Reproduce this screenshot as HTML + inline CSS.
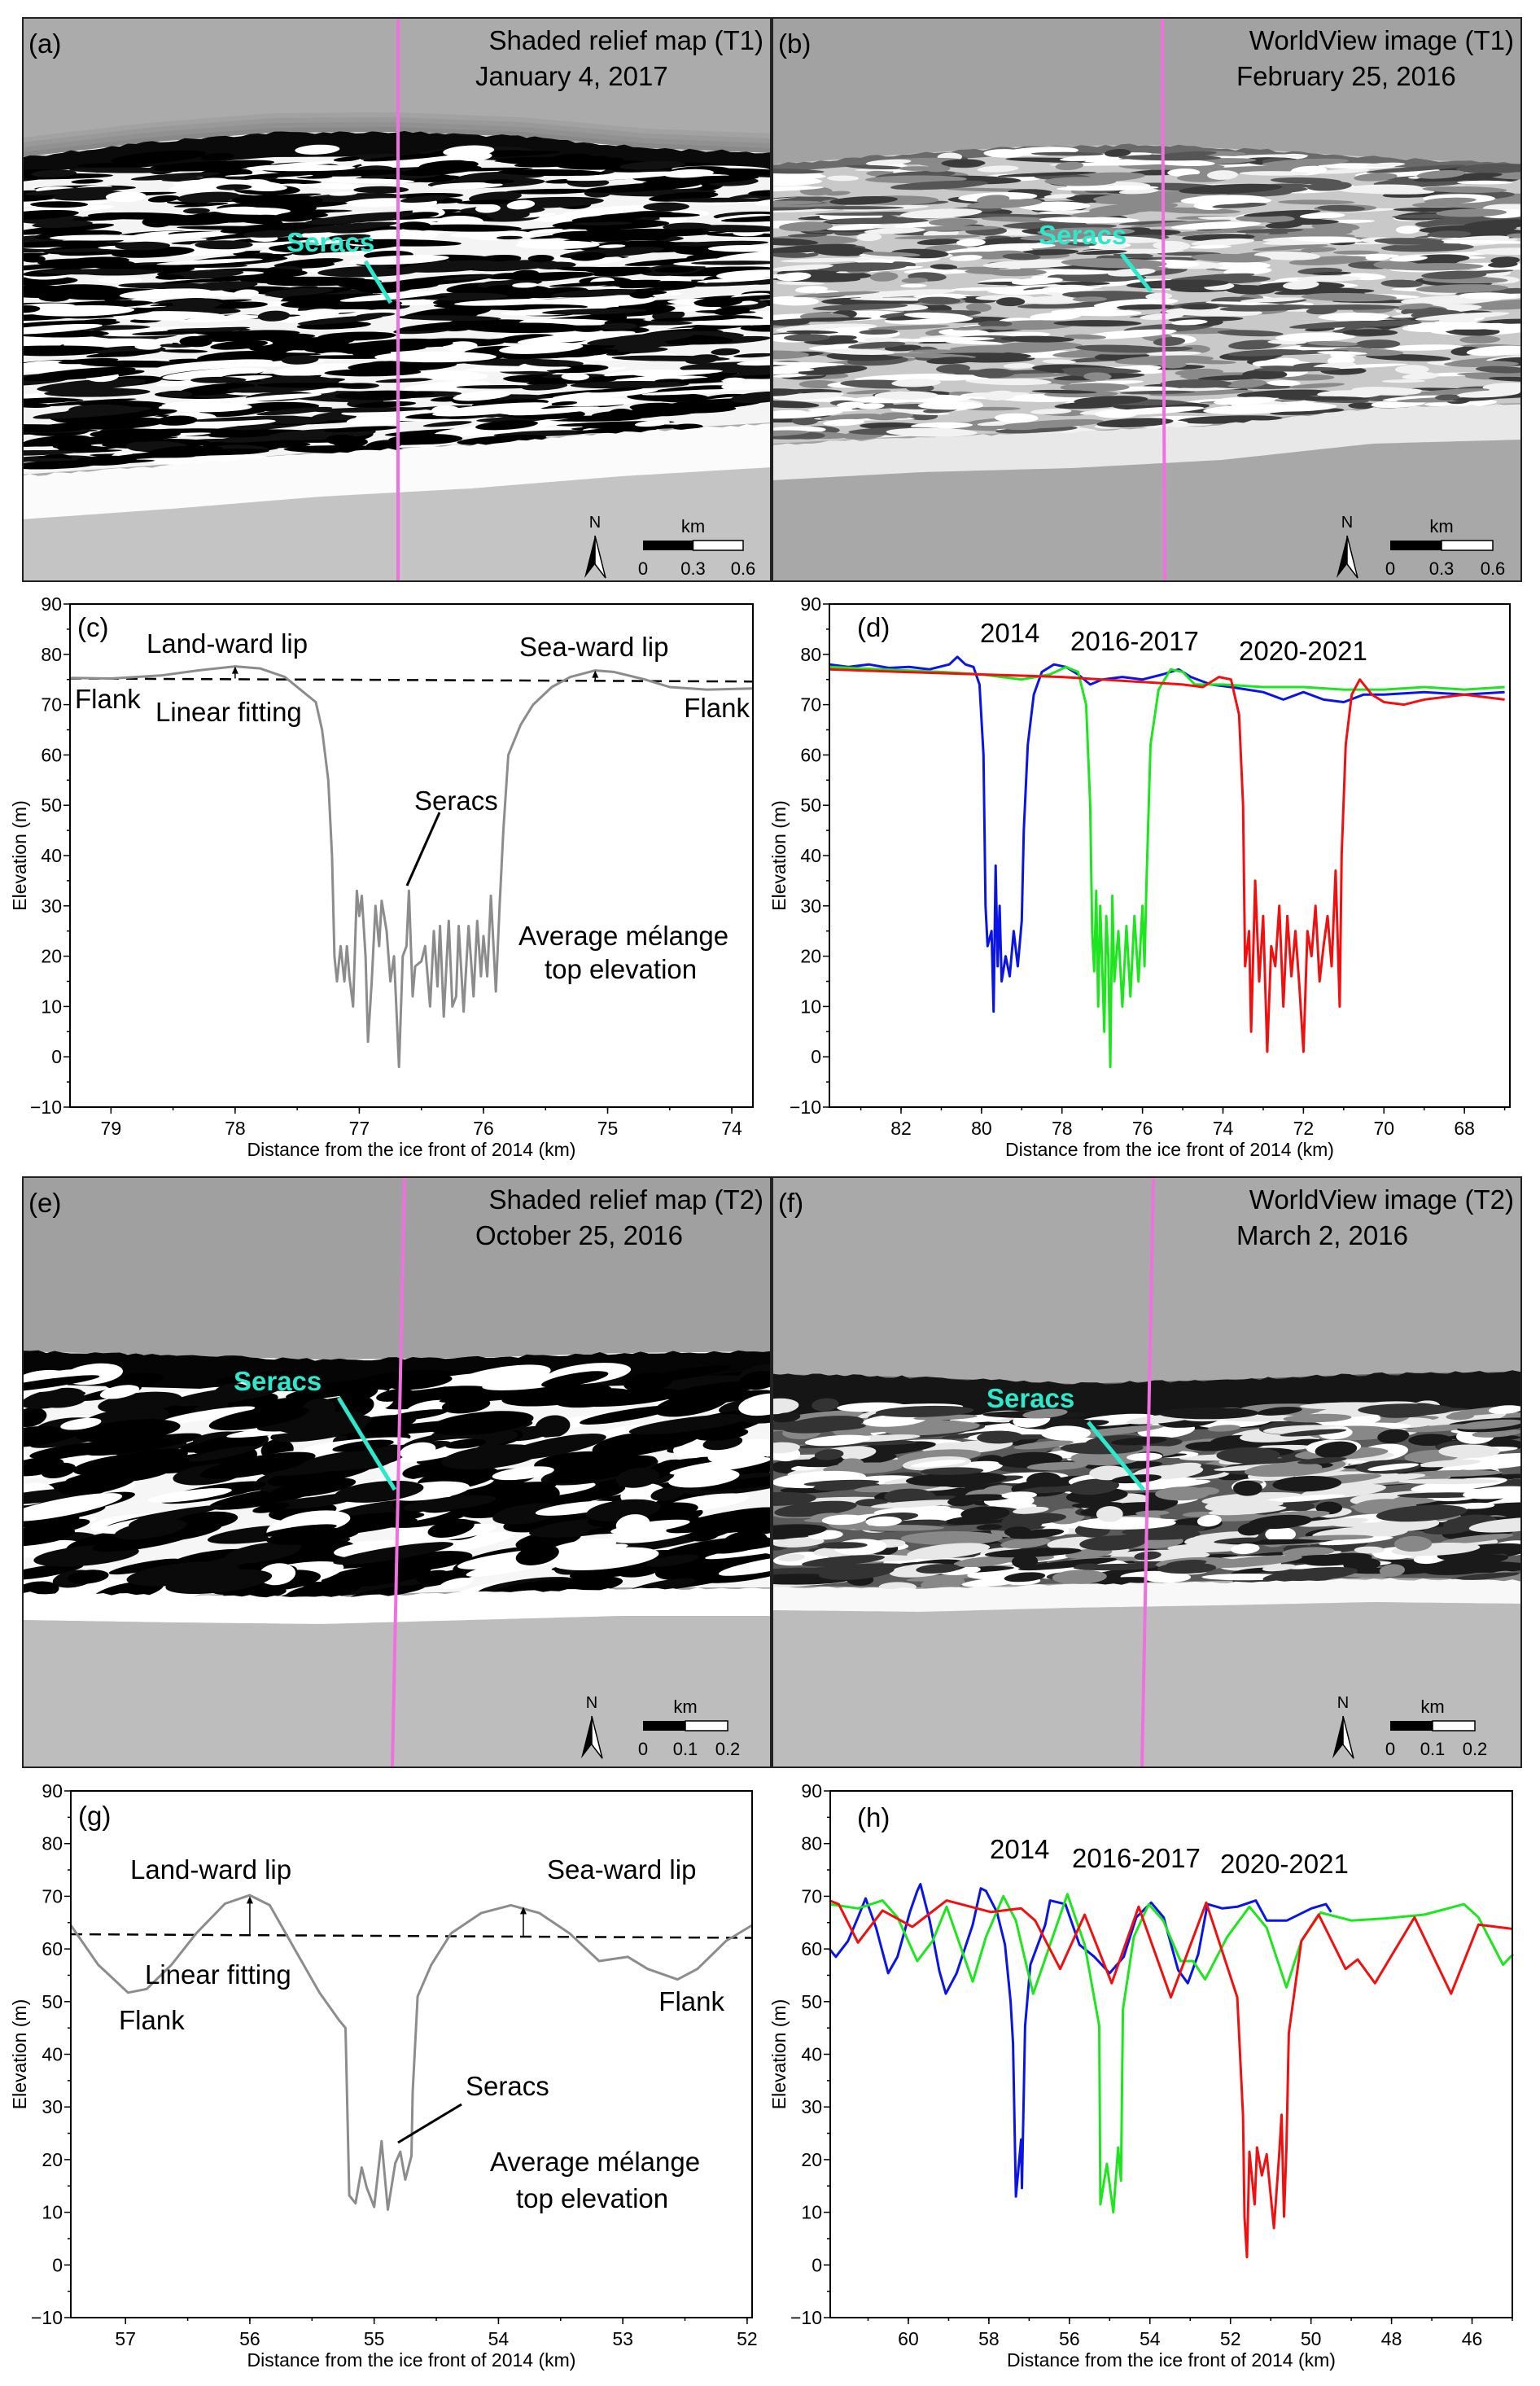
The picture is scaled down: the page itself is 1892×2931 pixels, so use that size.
<!DOCTYPE html>
<html><head><meta charset="utf-8"><style>
html,body{margin:0;padding:0;background:#fff}
svg{display:block;font-family:"Liberation Sans",Arial,sans-serif}
</style></head><body>
<svg id="fig" xmlns="http://www.w3.org/2000/svg" width="1892" height="2931" viewBox="0 0 1892 2931">
<defs>
<clipPath id="clipA"><rect x="27" y="21" width="921" height="694"/></clipPath>
<clipPath id="clipB"><rect x="948" y="21" width="922" height="694"/></clipPath>
<clipPath id="clipE"><rect x="27" y="1445" width="921" height="727"/></clipPath>
<clipPath id="clipF"><rect x="948" y="1445" width="922" height="727"/></clipPath>
</defs>
<g id="maps"></g>
<g id="charts"></g>
</svg>
<script>
// ---------- chart data ----------
const cX=[79.33,79.0,78.6,78.3,78.0,77.8,77.6,77.45,77.35,77.3,77.25,77.22,77.2,77.18,77.15,77.12,77.1,77.08,77.05,77.02,77.0,76.98,76.95,76.93,76.9,76.87,76.84,76.82,76.78,76.75,76.72,76.68,76.65,76.62,76.6,76.57,76.55,76.5,76.47,76.43,76.4,76.37,76.35,76.32,76.28,76.25,76.22,76.2,76.16,76.12,76.08,76.05,76.02,76.0,75.97,75.94,75.9,75.87,75.84,75.8,75.7,75.6,75.45,75.3,75.1,74.95,74.7,74.5,74.2,73.83];
const cY=[75.3,75.2,75.8,76.8,77.6,77.2,75.5,72.5,70.5,65,55,40,20,15,22,15,22,16,10,33,28,32,20,3,15,30,22,31,25,15,20,-2,20,22,33,12,18,19,22,10,25,14,26,8,27,10,12,26,9,26,12,27,16,24,16,32,13,30,45,60,66,70,73.5,75.5,76.8,76.5,75,73.5,73,73.2];
const cFitX=[79.33,73.83];
const cFitY=[75.2,74.6];

const dBlueX=[83.78,83.3,82.8,82.3,81.8,81.3,80.8,80.6,80.4,80.2,80.05,79.95,79.9,79.85,79.75,79.7,79.65,79.6,79.55,79.5,79.4,79.3,79.2,79.1,79.0,78.95,78.85,78.7,78.5,78.2,77.9,77.6,77.3,77.0,76.5,76.0,75.5,75.1,74.8,74.3,73.8,73.0,72.5,72.0,71.5,71.0,70.5,70.0,69.0,68.0,67.0];
const dBlueY=[78,77.5,78,77.3,77.5,77,78,79.5,78,77.5,74,60,30,22,25,9,38,18,30,15,20,16,25,18,27,45,62,72,76.5,78,77.5,76,74,75,75.5,75,76,77,75.5,74,73.5,72.5,71,72.5,71,70.5,72,72,72.5,72,72.5];
const dGreenX=[83.78,82.5,81,80,79,78.3,77.9,77.6,77.4,77.3,77.25,77.2,77.15,77.1,77.05,77.0,76.95,76.9,76.85,76.8,76.75,76.7,76.6,76.5,76.4,76.3,76.2,76.1,76.0,75.95,75.9,75.8,75.6,75.3,75.0,74.7,74.0,73.0,72.0,71.0,70.0,69.0,68.0,67.0];
const dGreenY=[77.5,77,76.5,76,75,76,77.5,76.5,70,50,25,17,33,10,30,18,5,28,20,-2,32,15,25,10,26,12,28,15,30,18,35,62,73,77,76.5,74,74,73.5,73.5,73,73,73.5,73,73.5];
const dRedX=[83.78,82,80,78,77,76,75,74.5,74.1,73.8,73.6,73.5,73.45,73.35,73.3,73.2,73.1,73.0,72.9,72.8,72.7,72.6,72.5,72.4,72.3,72.2,72.1,72.0,71.9,71.8,71.7,71.6,71.5,71.4,71.3,71.2,71.1,71.05,70.95,70.8,70.6,70.3,70.0,69.5,69.0,68.0,67.0];
const dRedY=[77,76.5,76,75.5,75,74.5,74,73.5,75.5,75,68,50,18,25,5,35,15,28,1,22,18,30,10,28,16,25,14,1,25,20,30,15,22,28,18,37,10,40,62,72,75,72,70.5,70,71,72,71];

const gX=[57.44,57.22,56.98,56.83,56.63,56.43,56.2,56.0,55.84,55.64,55.44,55.28,55.23,55.2,55.15,55.1,55.06,55.0,54.94,54.89,54.83,54.79,54.75,54.7,54.69,54.65,54.54,54.38,54.14,53.9,53.67,53.43,53.19,52.96,52.8,52.56,52.4,52.17,51.96];
const gY=[64.5,57,51.7,52.4,57,63,68.6,70.2,68.3,60,51.7,46.4,45,13.2,11.7,18.5,14.7,11,23.5,10.5,19.3,21.5,16.2,20.7,32.8,51,57,63,66.8,68.3,66.8,63,57.7,58.5,56.2,54.2,56.2,61.5,64.5];
const gFitX=[57.44,51.96];
const gFitY=[62.8,62.1];

const hBlueX=[61.96,61.8,61.5,61.25,61.06,60.8,60.5,60.27,59.96,59.78,59.7,59.47,59.23,59.07,58.8,58.4,58.2,58.07,57.8,57.6,57.46,57.4,57.33,57.2,57.18,57.1,56.97,56.6,56.48,56.1,55.75,55.38,55.0,54.65,54.34,53.97,53.66,53.3,53.06,52.8,52.57,52.2,51.83,51.37,51.1,50.6,49.99,49.63,49.5];
const hBlueY=[60,58.5,61.5,66,69.6,64,55.4,58.5,67,71,72.3,65.4,55.8,51.5,55.4,64.6,71.5,71,67,60.8,50,42,13,23.8,14.6,45.4,57,64.6,69.2,68.5,60.8,58.5,55.4,58.5,66,68.8,66,56,53.5,59,68.5,67.7,68,69.2,65.4,65.4,67.7,68.5,67];
const hGreenX=[61.96,61.25,60.64,60.27,59.78,59.4,59.05,58.4,58.07,57.64,57.33,56.9,56.48,56.05,55.62,55.26,55.23,55.07,54.91,54.79,54.72,54.67,54.4,54.03,53.67,53.24,52.93,52.63,52.08,51.53,51.1,50.61,50.24,49.76,49.0,48.16,47.19,46.2,45.84,45.23,44.98];
const hGreenY=[68.5,67.7,69.2,66,57.7,61.5,68,53.8,62.3,70,65.4,51.5,60.8,70.4,60.8,45.4,11.5,19.2,10,22.3,16,48.5,62.3,68.5,65.4,57.7,57.7,54.2,62.3,68,64,52.7,61.5,66.9,65.4,65.8,66.5,68.5,66,57,59];
const hRedX=[61.96,61.73,61.25,60.64,59.9,59.05,57.95,57.2,56.85,56.23,55.62,54.95,54.28,53.48,52.6,51.83,51.69,51.65,51.59,51.53,51.4,51.34,51.22,51.1,50.92,50.79,50.73,50.67,50.61,50.55,50.24,49.81,49.14,48.84,48.41,47.43,46.52,45.84,44.99];
const hRedY=[69.2,68.5,61.2,67.3,64.2,69.2,67,67.7,65.4,56.2,66.5,53.5,68,50.8,68.8,50.8,28.5,9,1.5,21.5,11.5,22.3,17,21,7,21,28.5,9.2,22.3,44,61.5,66.5,56.2,58,53.5,66,51.5,64.6,63.8];

const yTicks=[-10,0,10,20,30,40,50,60,70,80,90];
const cTicks=[79,78,77,76,75,74];
const dTicks=[82,80,78,76,74,72,70,68];
const gTicks=[57,56,55,54,53,52];
const hTicks=[60,58,56,54,52,50,48,46];

// ---------- helpers ----------
const NS='http://www.w3.org/2000/svg';
function mk(tag,attrs,parent){const e=document.createElementNS(NS,tag);for(const k in attrs)e.setAttribute(k,attrs[k]);parent.appendChild(e);return e;}
function txt(parent,x,y,s,size,anchor,fill,name,extra){const t=mk('text',{x:x,y:y,'font-size':size,'text-anchor':anchor||'start',fill:fill||'#000'},parent);t.textContent=s;


if(extra)for(const k in extra)t.setAttribute(k,extra[k]);return t;}

// seeded PRNG for decorative map textures (not chart data)
let seed=12345;function rnd(){seed=(seed*1103515245+12345)%2147483648;return seed/2147483648;}

const maps=document.getElementById('maps');
function edge(x0,w,ys){ // piecewise linear edge through ys evenly spaced
  return function(x){const t=(x-x0)/w*(ys.length-1);const i=Math.max(0,Math.min(ys.length-2,Math.floor(t)));const f=t-i;return ys[i]*(1-f)+ys[i+1]*f;};}
function mapPanel(o){
  const g=mk('g',{'clip-path':'url(#'+o.clip+')'},maps);
  
  
  const {x,y,w,h}=o;
  mk('rect',{x:x,y:y,width:w,height:h,fill:o.topCol},g);
  const top=edge(x,w,o.topEdge), bot=edge(x,w,o.botEdge);
  // bottom area
  let pb='M'+x+','+(y+h);for(let xx=x;xx<=x+w;xx+=10)pb+=' L'+xx+','+(bot(xx)+o.whiteW);pb+=' L'+(x+w)+','+(y+h)+'Z';
  mk('path',{d:pb,fill:o.botCol},g);
  // gradient shading near top band
  for(let i=0;i<o.fadeN;i++){let p='M'+x+','+(top(x)-i*6);for(let xx=x;xx<=x+w;xx+=10)p+=' L'+xx+','+(top(xx)-i*6);
    mk('path',{d:p+' L'+(x+w)+','+(top(x+w))+' L'+x+','+top(x)+'Z',fill:'#000',opacity:0.05},g);}
  // melange body
  let pm='M'+x+','+top(x);for(let xx=x;xx<=x+w;xx+=10)pm+=' L'+xx+','+top(xx);
  for(let xx=x+w;xx>=x;xx-=10)pm+=' L'+xx+','+bot(xx);pm+='Z';
  mk('path',{d:pm,fill:o.bodyCol},g);
  // dark band at top edge
  let pd='M'+x+','+top(x);for(let xx=x;xx<=x+w;xx+=10)pd+=' L'+xx+','+(top(xx)+(rnd()*4-2));
  for(let xx=x+w;xx>=x;xx-=10)pd+=' L'+xx+','+(top(xx)+o.darkW);pd+='Z';
  mk('path',{d:pd,fill:o.darkCol},g);
  // streaks
  for(let i=0;i<o.n;i++){const sx=x+rnd()*w;const t0=top(sx)+o.darkW*0.6,b0=bot(sx);const sy=t0+rnd()*(b0-t0);
    const col=o.cols[Math.floor(rnd()*o.cols.length)];
    mk('ellipse',{cx:sx,cy:sy,rx:o.rx[0]+rnd()*o.rx[1],ry:o.ry[0]+rnd()*o.ry[1],fill:col,transform:'rotate('+(o.rot+rnd()*6-3)+' '+sx+' '+sy+')'},g);}
  // white band along bottom
  let pw='M'+x+','+bot(x);for(let xx=x;xx<=x+w;xx+=10)pw+=' L'+xx+','+(bot(xx)+rnd()*3);
  for(let xx=x+w;xx>=x;xx-=10)pw+=' L'+xx+','+(bot(xx)+o.whiteW);pw+='Z';
  mk('path',{d:pw,fill:o.whiteCol},g);
  // pink profile line
  const pl=mk('line',{x1:o.px1,y1:y,x2:o.px2,y2:y+h,stroke:'#f070e0','stroke-width':4},g);
  
  
  // frame
  const fr=mk('rect',{x:x+1,y:y+1,width:w-2,height:h-2,fill:'none',stroke:'#222','stroke-width':2},maps);
  
  
  // labels
  txt(maps,x+8,y+44,o.letter,33,'start','#000','panel-letter');
  txt(maps,x+w-10,y+40,o.t1,33,'end','#000','map-title');
  const t2=txt(maps,o.t2x,y+84,o.t2,33,'start','#000','map-date');
  // seracs label
  txt(maps,o.sx,o.sy,'Seracs',33,'start','#2ee8cc','seracs-label',{'font-weight':'bold'});
  const sl=mk('line',{x1:o.sl[0],y1:o.sl[1],x2:o.sl[2],y2:o.sl[3],stroke:'#2ee8cc','stroke-width':5},maps);
  
  
  // north arrow + scale bar
  const nx=o.nx, ny=o.ny;
  txt(maps,nx,ny,'N',20,'middle','#000','north-label');
  const na=mk('path',{d:`M${nx},${ny+10} L${nx-13},${ny+62} L${nx},${ny+45} Z`,fill:'#000'},maps);
  
  
  mk('path',{d:`M${nx},${ny+10} L${nx+13},${ny+62} L${nx},${ny+45} Z`,fill:'#fff',stroke:'#000','stroke-width':1.5},maps);
  const bx=o.bx,bw=o.bw;
  mk('rect',{x:bx,y:ny+16,width:bw/2,height:12,fill:'#000'},maps);
  const sb=mk('rect',{x:bx+bw/2,y:ny+16,width:bw/2,height:12,fill:'#fff',stroke:'#000','stroke-width':1.5},maps);
  
  
  txt(maps,bx+bw/2,ny+6,'km',22,'middle','#000','scale-unit');
  o.sLabels.forEach((s,i)=>txt(maps,bx+i*bw/2,ny+58,s,22,'middle','#000','scale-tick'));
}
mapPanel({name:'map-a',clip:'clipA',x:27,y:21,w:921,h:694,topCol:'#ababab',botCol:'#c4c4c4',bodyCol:'#f4f4f4',darkCol:'#0a0a0a',whiteCol:'#fbfbfb',
 topEdge:[193,175,163,162,168,182,188],botEdge:[583,570,555,545,530,519],darkW:30,whiteW:55,fadeN:5,n:900,cols:['#000','#000','#111','#fff'],rx:[15,60],ry:[2,5],rot:-2,
 px1:489,px2:489,letter:'(a)',t1:'Shaded relief map (T1)',t2:'January 4, 2017',t2x:584,sx:352,sy:309,sl:[449,321,480,372],nx:731,ny:648,bx:790,bw:123,sLabels:['0','0.3','0.6']});
mapPanel({name:'map-b',clip:'clipB',x:948,y:21,w:922,h:694,topCol:'#a2a2a2',botCol:'#a8a8a8',bodyCol:'#c9c9c9',darkCol:'#6a6a6a',whiteCol:'#e8e8e8',
 topEdge:[202,190,180,178,185,195,202],botEdge:[545,535,530,520,500,495],darkW:10,whiteW:45,fadeN:0,n:900,cols:['#3a3a3a','#555','#f2f2f2','#ffffff','#8a8a8a'],rx:[15,50],ry:[2,4],rot:-1,
 px1:1428,px2:1431,letter:'(b)',t1:'WorldView image (T1)',t2:'February 25, 2016',t2x:1519,sx:1276,sy:300,sl:[1378,312,1414,358],nx:1655,ny:648,bx:1708,bw:126,sLabels:['0','0.3','0.6']});
mapPanel({name:'map-e',clip:'clipE',x:27,y:1445,w:921,h:727,topCol:'#a0a0a0',botCol:'#bdbdbd',bodyCol:'#f6f6f6',darkCol:'#050505',whiteCol:'#ffffff',
 topEdge:[1660,1665,1670,1668,1662,1660],botEdge:[1955,1958,1960,1955,1950,1950],darkW:40,whiteW:35,fadeN:0,n:380,cols:['#000','#000','#0a0a0a','#fff'],rx:[20,55],ry:[5,9],rot:-8,
 px1:497,px2:482,letter:'(e)',t1:'Shaded relief map (T2)',t2:'October 25, 2016',t2x:584,sx:287,sy:1708,sl:[416,1717,485,1830],nx:727,ny:2098,bx:790,bw:104,sLabels:['0','0.1','0.2']});
mapPanel({name:'map-f',clip:'clipF',x:948,y:1445,w:922,h:727,topCol:'#a9a9a9',botCol:'#bcbcbc',bodyCol:'#5a5a5a',darkCol:'#151515',whiteCol:'#f8f8f8',
 topEdge:[1688,1692,1700,1695,1688,1685],botEdge:[1948,1950,1945,1942,1938,1940],darkW:60,whiteW:30,fadeN:0,n:600,cols:['#1a1a1a','#333','#e8e8e8','#ffffff','#888'],rx:[15,50],ry:[3,7],rot:-3,
 px1:1417,px2:1403,letter:'(f)',t1:'WorldView image (T2)',t2:'March 2, 2016',t2x:1519,sx:1212,sy:1729,sl:[1337,1747,1405,1830],nx:1650,ny:2098,bx:1708,bw:104,sLabels:['0','0.1','0.2']});

// ---------- charts ----------
const charts=document.getElementById('charts');
function chart(o){
  const g=mk('g',{},charts);
  
  
  const L=o.l,R=o.r,T=o.t,B=o.b;
  const xs=v=>L+(o.xl-v)/(o.xl-o.xr)*(R-L);
  const ys=v=>B-(v+10)/100*(B-T);
  // ticks
  yTicks.forEach(v=>{const yy=ys(v);mk('line',{x1:L-8,y1:yy,x2:L,y2:yy,stroke:'#000','stroke-width':1.5},g);
    if(v<90)mk('line',{x1:L-4,y1:ys(v+5),x2:L,y2:ys(v+5),stroke:'#000','stroke-width':1.5},g);
    txt(g,L-10,yy+8,v<0?'\u221210':String(v),23,'end','#000','y-tick-label');});
  o.xt.forEach(v=>{const xx=xs(v);mk('line',{x1:xx,y1:B,x2:xx,y2:B+8,stroke:'#000','stroke-width':1.5},g);
    txt(g,xx,B+34,String(v),23,'middle','#000','x-tick-label');});
  for(let v=Math.ceil(o.xr/o.mstep)*o.mstep;v<=o.xl;v+=o.mstep){const xx=xs(v);mk('line',{x1:xx,y1:B,x2:xx,y2:B+4,stroke:'#000','stroke-width':1.5},g);}
  txt(g,(L+R)/2,B+60,'Distance from the ice front of 2014 (km)',23,'middle','#000','x-axis-title');
  const yt=txt(g,0,0,'Elevation (m)',23,'middle','#000','y-axis-title');
  yt.setAttribute('transform',`translate(${o.ytx},${(T+B)/2}) rotate(-90)`);
  // series
  o.series.forEach(s=>{let d='';s.x.forEach((v,i)=>{d+=(i?' L':'M')+xs(v).toFixed(1)+','+ys(s.y[i]).toFixed(1);});
    const p=mk('path',{d:d,fill:'none',stroke:s.c,'stroke-width':s.w||3,'stroke-linejoin':'round','stroke-dasharray':s.dash||'none'},g);
    
    });
  (o.arrows||[]).forEach(a=>{const xx=xs(a[0]),y1=ys(a[1]),y2=ys(a[2]);
    const ar=mk('line',{x1:xx,y1:y1,x2:xx,y2:y2+6,stroke:'#000','stroke-width':1.5},g);
    
    
    mk('path',{d:`M${xx},${y2} L${xx-4},${y2+9} L${xx+4},${y2+9}Z`,fill:'#000'},g);});
  const fr=mk('rect',{x:L,y:T,width:R-L,height:B-T,fill:'none',stroke:'#000','stroke-width':2},g);
  
  
  (o.labels||[]).forEach(l=>txt(g,l[0],l[1],l[2],33,l[3]||'start','#000',l[4]||'annotation'));
  (o.lines||[]).forEach(l=>{const ln=mk('line',{x1:l[0],y1:l[1],x2:l[2],y2:l[3],stroke:'#000','stroke-width':3},g);
    
    });
}
chart({name:'chart-c',l:86,r:925,t:742,b:1360,xl:79.33,xr:73.83,xt:cTicks,mstep:0.5,ytx:32,
 series:[{name:'fit-line',x:cFitX,y:cFitY,c:'#000',w:2.5,dash:'14 9'},{name:'profile-t1',x:cX,y:cY,c:'#8c8c8c',w:3}],
 arrows:[[78,75.2,77.6],[75.1,74.7,76.8]],
 labels:[[95,782,'(c)','start','panel-letter'],[180,802,'Land-ward lip'],[638,806,'Sea-ward lip'],[92,870,'Flank'],[191,886,'Linear fitting'],[921,881,'Flank','end'],[509,995,'Seracs'],[637,1161,'Average mélange'],[669,1202,'top elevation']],
 lines:[[540,998,500,1088]]});
chart({name:'chart-d',l:1019,r:1855,t:742,b:1360,xl:83.78,xr:66.87,xt:dTicks,mstep:1,ytx:965,
 series:[{name:'series-2014',x:dBlueX,y:dBlueY,c:'#0a14e6'},{name:'series-2016-2017',x:dGreenX,y:dGreenY,c:'#1ee61e'},{name:'series-2020-2021',x:dRedX,y:dRedY,c:'#f01010'}],
 labels:[[1053,782,'(d)','start','panel-letter'],[1204,789,'2014','start','legend-2014'],[1315,799,'2016-2017','start','legend-2016-2017'],[1522,811,'2020-2021','start','legend-2020-2021']]});
chart({name:'chart-g',l:87,r:924,t:2200,b:2847,xl:57.44,xr:51.96,xt:gTicks,mstep:0.5,ytx:32,
 series:[{name:'fit-line',x:gFitX,y:gFitY,c:'#000',w:2.5,dash:'14 9'},{name:'profile-t2',x:gX,y:gY,c:'#8c8c8c',w:3}],
 arrows:[[56.0,62.6,70],[53.8,62.3,68]],
 labels:[[96,2242,'(g)','start','panel-letter'],[160,2308,'Land-ward lip'],[672,2308,'Sea-ward lip'],[178,2437,'Linear fitting'],[146,2493,'Flank'],[890,2470,'Flank','end'],[572,2574,'Seracs'],[602,2667,'Average mélange'],[634,2712,'top elevation']],
 lines:[[567,2585,489,2632]]});
chart({name:'chart-h',l:1020,r:1858,t:2200,b:2847,xl:61.94,xr:45.0,xt:hTicks,mstep:1,ytx:965,
 series:[{name:'series-2014',x:hBlueX,y:hBlueY,c:'#0a14e6'},{name:'series-2016-2017',x:hGreenX,y:hGreenY,c:'#1ee61e'},{name:'series-2020-2021',x:hRedX,y:hRedY,c:'#f01010'}],
 labels:[[1053,2244,'(h)','start','panel-letter'],[1216,2283,'2014','start','legend-2014'],[1317,2294,'2016-2017','start','legend-2016-2017'],[1499,2301,'2020-2021','start','legend-2020-2021']]});
</script>
</body></html>
